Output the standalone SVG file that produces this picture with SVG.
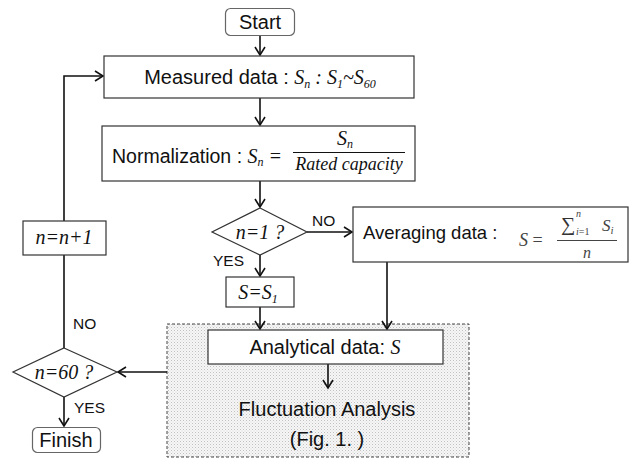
<svg xmlns="http://www.w3.org/2000/svg" width="631" height="461" viewBox="0 0 631 461">
<style>
.box{fill:#fff;stroke:#333;stroke-width:1.2}
.rbox{fill:#fff;stroke:#666;stroke-width:1.2}
.sans{font-family:"Liberation Sans",Arial,sans-serif;font-size:20px;fill:#111}
.lbl{font-family:"Liberation Sans",Arial,sans-serif;font-size:15.5px;fill:#111}
.m{font-family:"Liberation Serif","Times New Roman",serif;font-style:italic;font-size:20px;fill:#111}
.sub{font-size:12px}
.conn{fill:none;stroke:#111;stroke-width:1.6}
.arr{marker-end:url(#ah)}
</style>
<defs>
<marker id="ah" markerWidth="12" markerHeight="12" refX="9" refY="6" orient="auto" markerUnits="userSpaceOnUse">
<path d="M1,1 L9,6 L1,11" fill="none" stroke="#111" stroke-width="1.6"/>
</marker>
<pattern id="dots" width="3" height="3" patternUnits="userSpaceOnUse">
<rect width="3" height="3" fill="#f6f6f6"/>
<rect width="1" height="1" fill="#c0c0c0"/>
<rect x="1.5" y="1.5" width="1" height="1" fill="#d6d6d6"/>
</pattern>
</defs>

<g id="region">
<rect x="167" y="324" width="302" height="133" fill="url(#dots)" stroke="#444" stroke-width="1" stroke-dasharray="3,2"/>
</g>

<g id="connectors">
<line class="conn arr" x1="260" y1="35" x2="260" y2="55"/>
<line class="conn arr" x1="260" y1="98" x2="260" y2="125"/>
<line class="conn arr" x1="260" y1="181" x2="260" y2="207"/>
<line class="conn arr" x1="307" y1="232" x2="352" y2="232"/>
<line class="conn arr" x1="260" y1="255" x2="260" y2="276"/>
<line class="conn arr" x1="260" y1="307" x2="260" y2="329"/>
<line class="conn arr" x1="387" y1="262" x2="387" y2="329"/>
<line class="conn arr" x1="328" y1="364" x2="328" y2="388"/>
<line class="conn arr" x1="167" y1="372" x2="118" y2="372"/>
<line class="conn arr" x1="64" y1="397" x2="64" y2="426"/>
<line class="conn" x1="64" y1="348" x2="64" y2="255"/>
<polyline class="conn arr" points="64,221 64,76 103,76"/>
<text class="lbl" x="312" y="226">NO</text>
<text class="lbl" x="213" y="266">YES</text>
<text class="lbl" x="73" y="329">NO</text>
<text class="lbl" x="74" y="413">YES</text>
</g>

<g id="start">
<rect class="rbox" x="225.5" y="8.5" width="69" height="27" rx="5"/>
<text class="sans" x="260" y="29" text-anchor="middle">Start</text>
</g>

<g id="measured">
<rect class="box" x="104" y="56" width="310" height="42"/>
<text x="260" y="84" text-anchor="middle"><tspan class="sans">Measured data : </tspan><tspan class="m">S</tspan><tspan class="m sub" dy="4">n</tspan><tspan class="m" dy="-4"> : S</tspan><tspan class="m sub" dy="4">1</tspan><tspan class="m" dy="-4">~S</tspan><tspan class="m sub" dy="4">60</tspan></text>
</g>

<g id="normalization">
<rect class="box" x="102" y="126" width="313" height="55"/>
<text x="112" y="163"><tspan class="sans" style="font-size:19.5px">Normalization : </tspan><tspan class="m">S</tspan><tspan class="m sub" dy="3">n</tspan><tspan class="m" dy="-3"> =</tspan></text>
<text class="m" x="345" y="145" text-anchor="middle">S<tspan class="sub" dy="3">n</tspan></text>
<line x1="293" y1="152.5" x2="405" y2="152.5" stroke="#111" stroke-width="1.2"/>
<text class="m" x="349" y="170" text-anchor="middle" style="font-size:18px">Rated capacity</text>
</g>

<g id="decision1">
<polygon class="box" points="260,208 307,232 260,255 212,232"/>
<text class="m" x="260" y="239" text-anchor="middle">n=1 ?</text>
</g>

<g id="averaging">
<rect class="box" x="353" y="207" width="275" height="55"/>
<text class="sans" x="363" y="239" style="font-size:18.5px">Averaging data :</text>
<text class="m" x="519" y="246" style="fill:#444;font-size:18px">S <tspan font-style="normal">=</tspan></text>
<line x1="557" y1="240.5" x2="617" y2="240.5" stroke="#444" stroke-width="1"/>
<text x="561" y="231" style="font-family:'Liberation Serif',serif;font-size:20px;fill:#333">∑</text>
<text class="m" x="576" y="217" style="font-size:10px;fill:#444">n</text>
<text class="m" x="576" y="235" style="font-size:10px;fill:#444">i<tspan font-style="normal">=1</tspan></text>
<text class="m" x="602" y="231" style="font-size:17px;fill:#444">S<tspan class="sub" dy="3" style="font-size:11px">i</tspan></text>
<text class="m" x="587" y="258" text-anchor="middle" style="font-size:16px;fill:#444">n</text>
</g>

<g id="s1">
<rect class="box" x="226" y="277" width="68" height="30"/>
<text class="m" x="258" y="299" text-anchor="middle">S=S<tspan class="sub" dy="4">1</tspan></text>
</g>

<g id="analytical">
<rect class="box" x="208" y="330" width="235" height="34"/>
<text x="325" y="354" text-anchor="middle"><tspan class="sans">Analytical data: </tspan><tspan class="m">S</tspan></text>
</g>

<g id="fluctuation">
<text class="sans" x="327" y="416" text-anchor="middle">Fluctuation Analysis</text>
<text class="sans" x="327" y="446" text-anchor="middle">(Fig. 1. )</text>
</g>

<g id="decision60">
<polygon class="box" points="64,348 117,372 64,397 13,372"/>
<text class="m" x="64" y="379" text-anchor="middle">n=60 ?</text>
</g>

<g id="increment">
<rect class="box" x="23" y="221" width="83" height="34"/>
<text class="m" x="64" y="244" text-anchor="middle">n=n+1</text>
</g>

<g id="finish">
<rect class="rbox" x="32.5" y="427.5" width="68" height="25" rx="5"/>
<text class="sans" x="66" y="447" text-anchor="middle">Finish</text>
</g>
</svg>
